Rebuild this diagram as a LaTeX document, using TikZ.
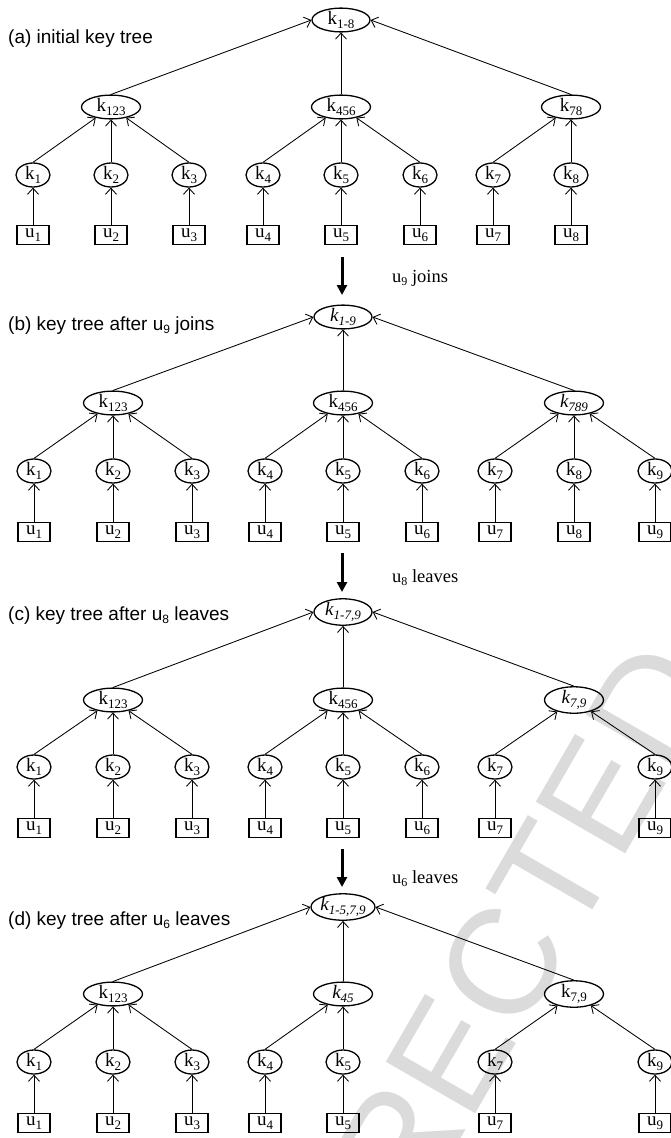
\documentclass[tikz,border=0pt]{standalone}
\usepackage{fontspec}
\setmainfont{Liberation Serif}
\newfontfamily\arialf{Liberation Sans}
\usetikzlibrary{shapes.geometric,arrows.meta}
\newcommand\kk[2]{#1\raisebox{-3.5pt}{\fontsize{13}{13}\selectfont #2}}
\newcommand\ik[2]{\textit{#1\raisebox{-3.5pt}{\fontsize{13}{13}\selectfont #2}}}
\newcommand\ssub[1]{\raisebox{-3pt}{\fontsize{12}{12}\selectfont #1}}
\tikzset{
  leaf/.style={ellipse, draw, line width=1.3pt, inner sep=0pt, minimum width=34pt, minimum height=24pt, font=\fontsize{19}{19}\selectfont},
  mid/.style={ellipse, draw, line width=1.3pt, inner sep=0pt, minimum width=59pt, minimum height=22pt, font=\fontsize{19}{19}\selectfont},
  rootn/.style={ellipse, draw, line width=1.3pt, inner sep=0pt, minimum width=58pt, minimum height=23pt, font=\fontsize{19}{19}\selectfont},
  ubox/.style={rectangle, draw, line width=1.3pt, inner sep=0pt, minimum width=32pt, minimum height=19pt, font=\fontsize{19}{19}\selectfont},
  edge/.style={-{Straight Barb[length=6pt,width=11pt]}, line width=0.85pt},
  bigarrow/.style={-{Triangle[length=10pt,width=10pt]}, line width=3pt},
  captxt/.style={anchor=base west, inner sep=0pt, font=\arialf\fontsize{19}{19}\selectfont},
  steplabel/.style={anchor=base west, inner sep=0pt, font=\fontsize{18.5}{18.5}\selectfont},
  wmark/.style={text=black!14, font=\arialf\fontsize{150}{150}\selectfont, rotate=60, inner sep=0pt}
}
\begin{document}
\begin{tikzpicture}[x=1pt,y=-1pt]
\useasboundingbox (0,0) rectangle (671,1138);
\begin{scope}
\clip (0,0) rectangle (671,1138);
\node[wmark] (wm) at (525,925) {RECTED};
\end{scope}

% ---------------- (a)
\node[captxt] (capa) at (8,43) {(a) initial key tree};
\foreach \i/\x in {1/33,2/111,3/189,4/263,5/341,6/420,7/493,8/571} {
  \node[leaf] (a-k\i) at (\x,175) {\kk{k}{\i}};
  \node[ubox] (a-u\i) at (\x,235) {\kk{u}{\i}};
  \draw[edge] (a-u\i) -- (a-k\i);
}
\node[rootn] (a-r) at (341,20) {\kk{k}{1-8}};
\node[mid] (a-m1) at (111,107) {\kk{k}{123}};
\node[mid] (a-m2) at (341,107) {\kk{k}{456}};
\node[mid] (a-m3) at (571,107) {\kk{k}{78}};
\draw[edge] (a-k1.north) -- (a-m1);
\draw[edge] (a-k2) -- (a-m1);
\draw[edge] (a-k3.north) -- (a-m1);
\draw[edge] (a-k4.north) -- (a-m2);
\draw[edge] (a-k5) -- (a-m2);
\draw[edge] (a-k6.north) -- (a-m2);
\draw[edge] (a-k7.north) -- (a-m3);
\draw[edge] (a-k8) -- (a-m3);
\draw[edge] (a-m1.north) -- (a-r.west);
\draw[edge] (a-m2) -- (a-r);
\draw[edge] (a-m3.north) -- (a-r.east);

\coordinate (ab1) at (342,257);
\coordinate (ab2) at (342,295);
\draw[bigarrow] (ab1) -- (ab2);
\node[steplabel] (lab1) at (392,282) {u\ssub{9} joins};

% ---------------- (b)
\node[captxt] (capb) at (8,330) {(b) key tree after u\ssub{9} joins};
\foreach \i/\x in {1/34,2/113,3/192,4/265,5/343,6/422,7/495,8/574,9/655} {
  \node[leaf] (b-k\i) at (\x,471) {\kk{k}{\i}};
  \node[ubox] (b-u\i) at (\x,532) {\kk{u}{\i}};
  \draw[edge] (b-u\i) -- (b-k\i);
}
\node[rootn] (b-r) at (343,317) {\ik{k}{1-9}};
\node[mid] (b-m1) at (113,403) {\kk{k}{123}};
\node[mid] (b-m2) at (343,403) {\kk{k}{456}};
\node[mid] (b-m3) at (574,403) {\ik{k}{789}};
\draw[edge] (b-k1.north) -- (b-m1);
\draw[edge] (b-k2) -- (b-m1);
\draw[edge] (b-k3.north) -- (b-m1);
\draw[edge] (b-k4.north) -- (b-m2);
\draw[edge] (b-k5) -- (b-m2);
\draw[edge] (b-k6.north) -- (b-m2);
\draw[edge] (b-k7.north) -- (b-m3);
\draw[edge] (b-k8) -- (b-m3);
\draw[edge] (b-k9.north) -- (b-m3);
\draw[edge] (b-m1.north) -- (b-r.west);
\draw[edge] (b-m2) -- (b-r);
\draw[edge] (b-m3.north) -- (b-r.east);

\coordinate (bc1) at (342,553);
\coordinate (bc2) at (342,592);
\draw[bigarrow] (bc1) -- (bc2);
\node[steplabel] (lab2) at (392,582) {u\ssub{8} leaves};

% ---------------- (c)
\node[captxt] (capc) at (8,620) {(c) key tree after u\ssub{8} leaves};
\foreach \i/\x in {1/34,2/113,3/192,4/265,5/343,6/422,7/495,9/655} {
  \node[leaf] (c-k\i) at (\x,767) {\kk{k}{\i}};
  \node[ubox] (c-u\i) at (\x,828) {\kk{u}{\i}};
  \draw[edge] (c-u\i) -- (c-k\i);
}
\node[rootn] (c-r) at (343,612) {\ik{k}{1-7,9}};
\node[mid] (c-m1) at (113,700) {\kk{k}{123}};
\node[mid] (c-m2) at (343,700) {\kk{k}{456}};
\node[mid] (c-m3) at (574,700) {\ik{k}{7,9}};
\draw[edge] (c-k1.north) -- (c-m1);
\draw[edge] (c-k2) -- (c-m1);
\draw[edge] (c-k3.north) -- (c-m1);
\draw[edge] (c-k4.north) -- (c-m2);
\draw[edge] (c-k5) -- (c-m2);
\draw[edge] (c-k6.north) -- (c-m2);
\draw[edge] (c-k7.north) -- (c-m3);
\draw[edge] (c-k9.north) -- (c-m3);
\draw[edge] (c-m1.north) -- (c-r.west);
\draw[edge] (c-m2) -- (c-r);
\draw[edge] (c-m3.north) -- (c-r.east);

\coordinate (cd1) at (342,849);
\coordinate (cd2) at (342,887);
\draw[bigarrow] (cd1) -- (cd2);
\node[steplabel] (lab3) at (392,883) {u\ssub{6} leaves};

% ---------------- (d)
\node[captxt] (capd) at (8,925) {(d) key tree after u\ssub{6} leaves};
\foreach \i/\x in {1/34,2/113,3/192,4/265,5/343,7/495,9/655} {
  \node[leaf] (d-k\i) at (\x,1062) {\kk{k}{\i}};
  \node[ubox] (d-u\i) at (\x,1123) {\kk{u}{\i}};
  \draw[edge] (d-u\i) -- (d-k\i);
}
\node[rootn] (d-r) at (343,907) {\ik{k}{1-5,7,9}};
\node[mid] (d-m1) at (113,994) {\kk{k}{123}};
\node[mid] (d-m2) at (343,994) {\ik{k}{45}};
\node[mid] (d-m3) at (574,994) {\kk{k}{7,9}};
\draw[edge] (d-k1.north) -- (d-m1);
\draw[edge] (d-k2) -- (d-m1);
\draw[edge] (d-k3.north) -- (d-m1);
\draw[edge] (d-k4.north) -- (d-m2);
\draw[edge] (d-k5) -- (d-m2);
\draw[edge] (d-k7.north) -- (d-m3);
\draw[edge] (d-k9.north) -- (d-m3);
\draw[edge] (d-m1.north) -- (d-r.west);
\draw[edge] (d-m2) -- (d-r);
\draw[edge] (d-m3.north) -- (d-r.east);
\end{tikzpicture}
\end{document}
